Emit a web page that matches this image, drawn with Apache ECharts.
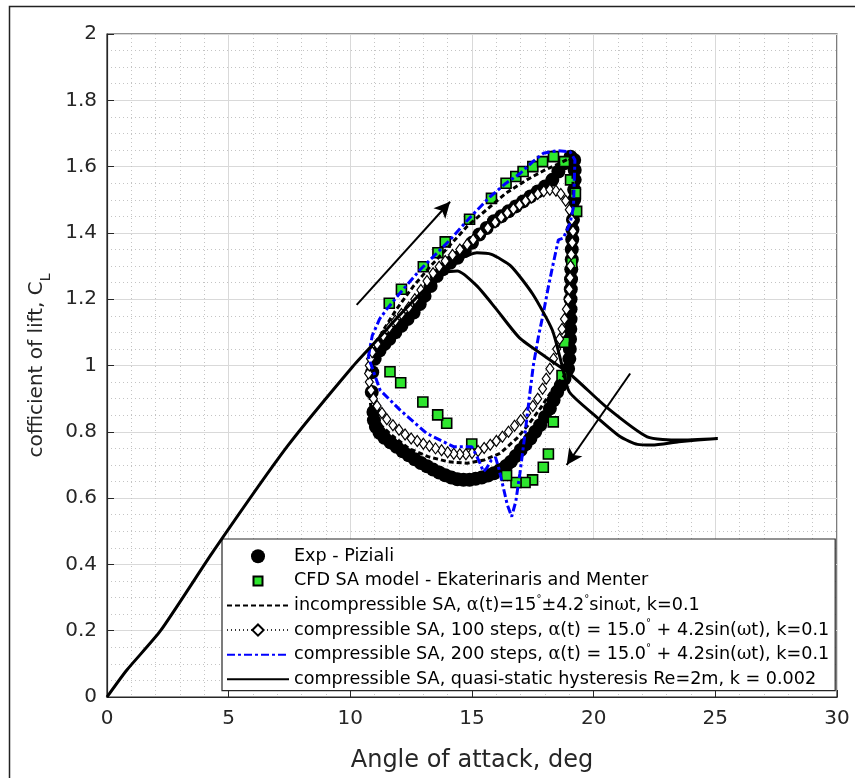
<!DOCTYPE html>
<html><head><meta charset="utf-8">
<script src="https://cdn.jsdelivr.net/npm/echarts@6/dist/echarts.min.js"></script>
<style>html,body{margin:0;padding:0;background:#fff}#c{width:855px;height:778px}</style>
</head><body><div id="c"></div>
<script>
// ---------- data ----------
const seriesNames = [
  'Exp - Piziali',
  'CFD SA model - Ekaterinaris and Menter',
  'incompressible SA',
  'compressible SA, 100 steps',
  'compressible SA, 200 steps',
  'compressible SA, quasi-static'
];
const expData = [[10.95,0.86],[10.88,0.92],[10.9,0.98],[11.0,1.02],[11.2,1.045],[11.4,1.065],[11.6,1.08],[11.85,1.1],[12.1,1.12],[12.35,1.14],[12.6,1.16],[12.85,1.185],[13.05,1.21],[13.3,1.24],[13.55,1.27],[13.8,1.29],[14.1,1.31],[14.4,1.325],[14.7,1.345],[15.0,1.37],[15.3,1.395],[15.6,1.415],[15.9,1.435],[16.2,1.45],[16.5,1.465],[16.8,1.48],[17.1,1.495],[17.4,1.51],[17.7,1.525],[18.0,1.54],[18.3,1.56],[18.55,1.585],[18.8,1.61],[19.05,1.63],[19.2,1.62],[19.22,1.59],[19.22,1.56],[19.2,1.53],[19.2,1.5],[19.17,1.47],[19.15,1.44],[19.13,1.41],[19.12,1.38],[19.1,1.35],[19.1,1.32],[19.08,1.29],[19.07,1.26],[19.06,1.23],[19.05,1.2],[19.05,1.17],[19.05,1.14],[19.04,1.11],[19.03,1.08],[19.02,1.05],[19.0,1.02],[18.95,0.99],[18.8,0.96],[18.65,0.94],[18.5,0.92],[18.35,0.895],[18.2,0.87],[18.0,0.845],[17.8,0.82],[17.6,0.8],[17.4,0.78],[17.2,0.762],[17.0,0.745],[16.8,0.727],[16.6,0.71],[16.4,0.697],[16.15,0.685],[15.9,0.675],[15.65,0.668],[15.4,0.662],[15.15,0.658],[14.9,0.655],[14.65,0.655],[14.4,0.657],[14.15,0.662],[13.9,0.669],[13.65,0.677],[13.4,0.686],[13.15,0.696],[12.9,0.706],[12.65,0.717],[12.4,0.729],[12.15,0.741],[11.9,0.755],[11.65,0.768],[11.4,0.782],[11.2,0.797],[11.05,0.815],[10.97,0.835]];
const cfdData = [[11.6,1.188],[12.1,1.23],[13.0,1.298],[13.6,1.34],[13.9,1.373],[14.9,1.441],[15.8,1.504],[16.4,1.55],[16.8,1.57],[17.1,1.585],[17.5,1.6],[17.9,1.615],[18.35,1.63],[18.8,1.615],[19.05,1.56],[19.25,1.52],[19.3,1.465],[19.1,1.31],[18.8,1.07],[18.7,0.97],[18.34,0.83],[18.14,0.733],[17.93,0.693],[17.49,0.655],[17.18,0.647],[16.81,0.647],[16.42,0.668],[14.99,0.763],[13.96,0.826],[13.59,0.851],[12.98,0.89],[12.07,0.948],[11.63,0.981]];
const incompData = [[10.75,0.95],[10.9,1.03],[11.3,1.1],[11.9,1.17],[12.6,1.24],[13.3,1.3],[14.0,1.355],[14.8,1.42],[15.6,1.47],[16.4,1.52],[17.25,1.56],[18.0,1.59],[18.6,1.61],[19.0,1.625],[19.15,1.6],[19.15,1.5],[19.1,1.4],[19.1,1.3],[19.05,1.2],[19.05,1.1],[19.0,1.02],[18.8,0.97],[18.34,0.93],[17.8,0.87],[17.3,0.82],[16.84,0.78],[16.15,0.735],[15.5,0.715],[14.8,0.705],[14.0,0.71],[13.2,0.725],[12.4,0.75],[11.7,0.79],[11.1,0.83],[10.85,0.87],[10.75,0.95]];
const steps100Data = [[10.9,1.04],[11.1,1.065],[11.35,1.09],[11.6,1.115],[11.85,1.135],[12.1,1.155],[12.4,1.175],[12.65,1.2],[12.9,1.228],[13.15,1.255],[13.4,1.278],[13.65,1.298],[13.9,1.315],[14.2,1.333],[14.5,1.35],[14.8,1.365],[15.05,1.379],[15.35,1.397],[15.65,1.415],[15.95,1.432],[16.2,1.447],[16.45,1.46],[16.7,1.472],[16.95,1.484],[17.2,1.496],[17.45,1.507],[17.7,1.517],[17.95,1.526],[18.2,1.53],[18.45,1.527],[18.65,1.517],[18.85,1.497],[19.0,1.47],[19.1,1.44],[19.15,1.405],[19.12,1.37],[19.08,1.335],[19.05,1.3],[19.03,1.265],[19.0,1.23],[18.95,1.2],[18.88,1.17],[18.8,1.14],[18.7,1.11],[18.6,1.08],[18.48,1.05],[18.35,1.02],[18.2,0.99],[18.05,0.96],[17.9,0.93],[17.7,0.9],[17.5,0.878],[17.25,0.856],[17.0,0.835],[16.75,0.818],[16.5,0.8],[16.25,0.785],[16.0,0.772],[15.75,0.761],[15.5,0.751],[15.25,0.742],[15.0,0.736],[14.75,0.732],[14.5,0.732],[14.25,0.734],[14.0,0.738],[13.75,0.744],[13.5,0.75],[13.25,0.757],[13.0,0.764],[12.75,0.772],[12.5,0.78],[12.25,0.792],[12.0,0.806],[11.75,0.82],[11.5,0.838],[11.3,0.857],[11.1,0.878],[10.95,0.9],[10.85,0.925],[10.78,0.95],[10.75,0.976],[10.78,1.0],[10.83,1.02],[10.9,1.04]];
const steps200Data = [[10.74,1.026],[10.9,1.09],[11.2,1.14],[11.5,1.17],[12.0,1.215],[12.86,1.288],[13.5,1.335],[14.1,1.379],[14.9,1.445],[15.74,1.509],[16.4,1.55],[16.97,1.579],[17.5,1.615],[17.93,1.64],[18.48,1.648],[19.03,1.645],[19.23,1.62],[19.2,1.55],[19.17,1.479],[19.03,1.429],[18.75,1.384],[18.55,1.379],[18.34,1.308],[18.14,1.238],[17.93,1.157],[17.73,1.087],[17.52,1.0],[17.35,0.9],[17.18,0.795],[16.97,0.675],[16.8,0.59],[16.63,0.544],[16.45,0.58],[16.28,0.634],[16.1,0.69],[15.97,0.722],[15.8,0.715],[15.6,0.69],[15.47,0.68],[15.3,0.71],[15.1,0.74],[14.99,0.755],[14.24,0.755],[13.14,0.795],[12.04,0.866],[11.22,0.926],[10.88,0.997],[10.74,1.026]];
const quasiStaticData = [[0,0],[0.8,0.08],[2.2,0.2],[4.4,0.443],[7.4,0.755],[10.1,0.997],[11.1,1.077],[12.0,1.15],[13.0,1.225],[14.0,1.29],[14.6,1.325],[15.2,1.34],[15.8,1.335],[16.6,1.3],[17.5,1.215],[18.3,1.107],[18.7,1.0],[19.0,0.92],[20.1,0.846],[21.1,0.785],[21.8,0.762],[22.4,0.76],[23.5,0.77],[25.1,0.78],[23.5,0.775],[22.2,0.785],[20.5,0.876],[19.0,0.976],[17.0,1.08],[16.0,1.17],[15.2,1.24],[14.4,1.285],[13.9,1.28],[13.4,1.255]];
const arrowUp = [[10.26,1.183],[14.1,1.494]];
const arrowDown = [[21.5,0.976],[18.89,0.70]];

// ---------- chart ----------
const legendRich = {
  'Exp - Piziali': '{t|Exp - Piziali}',
  'CFD SA model - Ekaterinaris and Menter': '{t|CFD SA model - Ekaterinaris and Menter}',
  'incompressible SA': '{t|incompressible SA, }{g|α}{t|(t)=15}{s|°}{t|±4.2}{s|°}{t|sin}{g|ω}{t|t, k=0.1}',
  'compressible SA, 100 steps': '{t|compressible SA, 100 steps, }{g|α}{t|(t) = 15.0}{s|°}{t| + 4.2sin(}{g|ω}{t|t), k=0.1}',
  'compressible SA, 200 steps': '{t|compressible SA, 200 steps, }{g|α}{t|(t) = 15.0}{s|°}{t| + 4.2sin(}{g|ω}{t|t), k=0.1}',
  'compressible SA, quasi-static': '{t|compressible SA, quasi-static hysteresis Re=2m, k = 0.002}'
};
const FONT = 'DejaVu Sans';
const LFS = 17.6;
const LLH = 22.6;
const hideSym = {opacity: 0};
const chart = echarts.init(document.getElementById('c'), null, {renderer: 'canvas'});
chart.setOption({
  animation: false,
  backgroundColor: '#fff',
  graphic: [{type: 'polyline', shape: {points: [[9.5, 778], [9.5, 6.5], [855, 6.5]]}, style: {fill: 'none', stroke: '#222', lineWidth: 1.5}, silent: true}],
  grid: {left: 107, right: 18, top: 34, bottom: 81, show: true, borderColor: '#262626', borderWidth: 1.2, backgroundColor: '#fff'},
  legend: {
    orient: 'vertical', left: 222, top: 539,
    data: [
      {name: seriesNames[0], icon: 'circle'},
      {name: seriesNames[1], icon: 'path://M0,0M14,14M2.5,2.5L11.5,2.5L11.5,11.5L2.5,11.5Z'},
      {name: seriesNames[2], itemStyle: hideSym},
      {name: seriesNames[3]},
      {name: seriesNames[4], itemStyle: hideSym},
      {name: seriesNames[5], itemStyle: hideSym}
    ],
    itemWidth: 62, itemHeight: 14, itemGap: 2,
    padding: [6, 6, 0, 4],
    backgroundColor: '#fff', borderColor: '#262626', borderWidth: 1.2,
    formatter: n => legendRich[n],
    textStyle: {
      fontFamily: FONT, fontSize: LFS, color: '#000', lineHeight: LLH,
      rich: {
        t: {fontFamily: FONT, fontSize: LFS, color: '#000', lineHeight: LLH},
        g: {fontFamily: 'DejaVu Serif', fontSize: LFS, color: '#000', lineHeight: LLH},
        s: {fontFamily: FONT, fontSize: 10, color: '#000', verticalAlign: 'top', lineHeight: LLH}
      }
    }
  },
  xAxis: {
    type: 'value', min: 0, max: 30, interval: 5,
    name: 'Angle of attack, deg', nameLocation: 'middle', nameGap: 52,
    nameTextStyle: {fontFamily: FONT, fontSize: 24, color: '#262626'},
    axisLine: {show: true, onZero: false, lineStyle: {color: '#262626', width: 1.2}},
    axisTick: {show: true, inside: true, length: 7, lineStyle: {color: '#262626'}},
    axisLabel: {fontFamily: FONT, fontSize: 20, color: '#262626', margin: 12},
    splitLine: {show: true, lineStyle: {color: '#d9d9d9', width: 1}},
    minorTick: {show: false, splitNumber: 5},
    minorSplitLine: {show: true, lineStyle: {color: '#c4c4c4', width: 1, type: [1, 3]}}
  },
  yAxis: {
    type: 'value', min: 0, max: 2, interval: 0.2,
    name: 'cofficient of lift, C{sub|L}', nameLocation: 'middle', nameGap: 60,
    nameTextStyle: {fontFamily: FONT, fontSize: 20, color: '#262626',
      rich: {sub: {fontFamily: FONT, fontSize: 14, color: '#262626', verticalAlign: 'bottom', padding: [0, 0, -6, 0]}}},
    axisLine: {show: true, onZero: false, lineStyle: {color: '#262626', width: 1.2}},
    axisTick: {show: true, inside: true, length: 7, lineStyle: {color: '#262626'}},
    axisLabel: {fontFamily: FONT, fontSize: 20, color: '#262626', margin: 10},
    splitLine: {show: true, lineStyle: {color: '#d9d9d9', width: 1}},
    minorTick: {show: false, splitNumber: 4},
    minorSplitLine: {show: true, lineStyle: {color: '#c4c4c4', width: 1, type: [1, 3]}}
  },
  series: [
    {name: seriesNames[0], type: 'scatter', data: expData, symbol: 'circle', symbolSize: 14,
     itemStyle: {color: '#000', opacity: 1}, z: 2},
    {name: seriesNames[1], type: 'scatter', data: cfdData, symbol: 'rect', symbolSize: 10,
     itemStyle: {color: '#2ee62e', borderColor: '#000', borderWidth: 1.6, opacity: 1}, z: 3},
    {name: seriesNames[2], type: 'line', data: incompData, showSymbol: false, symbol: 'none',
     lineStyle: {color: '#000', width: 3, type: [5, 3]}, itemStyle: {color: '#000'}, z: 4},
    {name: seriesNames[3], type: 'line', data: steps100Data, symbol: 'diamond', symbolSize: [8, 11], showSymbol: true,
     lineStyle: {color: '#333', width: 1, type: [1, 3]}, itemStyle: {color: '#fff', borderColor: '#000', borderWidth: 1.2}, z: 5},
    {name: seriesNames[4], type: 'line', data: steps200Data, showSymbol: false, symbol: 'none',
     lineStyle: {color: '#0000ff', width: 3, type: [8, 3, 3, 3]}, itemStyle: {color: '#0000ff'}, z: 6},
    {name: seriesNames[5], type: 'line', data: quasiStaticData, showSymbol: false, symbol: 'none', smooth: 0.2,
     lineStyle: {color: '#000', width: 3}, itemStyle: {color: '#000'}, z: 7,
     markLine: {silent: true, symbol: ['none', 'arrow'], symbolSize: [12, 16], label: {show: false},
       lineStyle: {color: '#000', width: 2, type: 'solid'},
       data: [
         [{coord: arrowUp[0]}, {coord: arrowUp[1]}],
         [{coord: arrowDown[0]}, {coord: arrowDown[1]}]
       ]}}
  ]
});
</script></body></html>
